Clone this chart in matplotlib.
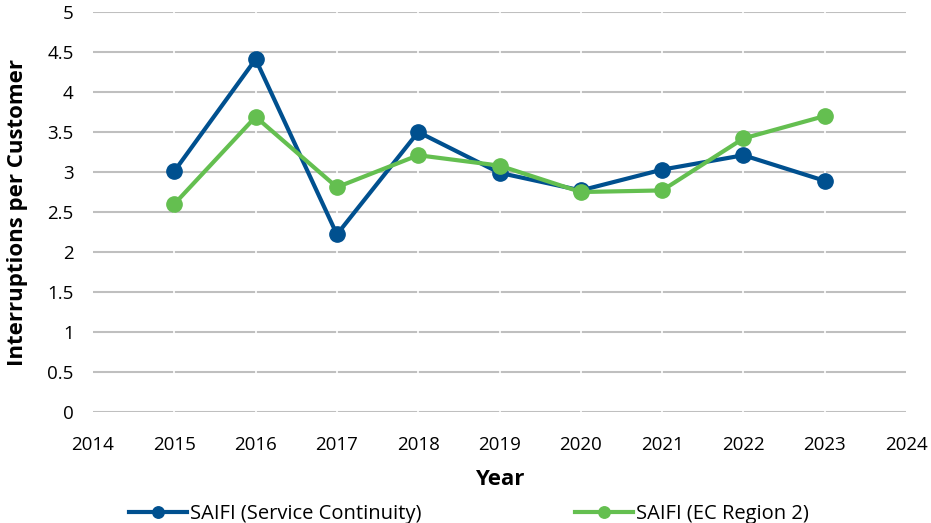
import matplotlib.pyplot as plt

years = [2015, 2016, 2017, 2018, 2019, 2020, 2021, 2022, 2023]
saifi_sc = [3.01, 4.41, 2.22, 3.50, 2.99, 2.77, 3.03, 3.21, 2.89]
saifi_ec = [2.60, 3.69, 2.81, 3.21, 3.08, 2.75, 2.77, 3.42, 3.70]
yticks = [0, 0.5, 1, 1.5, 2, 2.5, 3, 3.5, 4, 4.5, 5]
xticks = list(range(2014, 2025))

plt.rcParams['font.family'] = ['Open Sans', 'DejaVu Sans']

fig = plt.figure(figsize=(9.31, 5.23), dpi=100)
ax = fig.add_axes([0.0999, 0.2122, 0.8733, 0.7648])

for y in yticks:
    ax.axhline(y, color='#BFBFBF', lw=1.5, zorder=0)
# small gaps in the gridlines at each year, like the original
for x in xticks[1:-1]:
    ax.axvline(x, color='white', lw=1.2, zorder=1)

ax.plot(years, saifi_sc, color='#00508F', lw=3, marker='o', ms=11,
        label='SAIFI (Service Continuity)', zorder=3)
ax.plot(years, saifi_ec, color='#64BF50', lw=3, marker='o', ms=11,
        label='SAIFI (EC Region 2)', zorder=4)

ax.set_xlim(2014, 2024)
ax.set_ylim(0, 5)
ax.set_xticks(xticks)
ax.set_yticks(yticks)
ax.set_yticklabels([f'{v:g}' for v in yticks])
ax.tick_params(length=0, labelsize=13.5, pad=14)
ax.tick_params(axis='x', pad=17)
for s in ax.spines.values():
    s.set_visible(False)

ax.set_xlabel('Year', fontsize=16, fontweight='bold', labelpad=11)
ax.set_ylabel('Interruptions per Customer', fontsize=16, fontweight='bold', labelpad=14)

ax.legend(loc='center', bbox_to_anchor=(0.4625, -0.256), ncol=2, frameon=False,
          fontsize=14.5, columnspacing=7.6, handlelength=2.9, handletextpad=0.15,
          markerscale=0.75)

fig.savefig('out.png', dpi=100)
